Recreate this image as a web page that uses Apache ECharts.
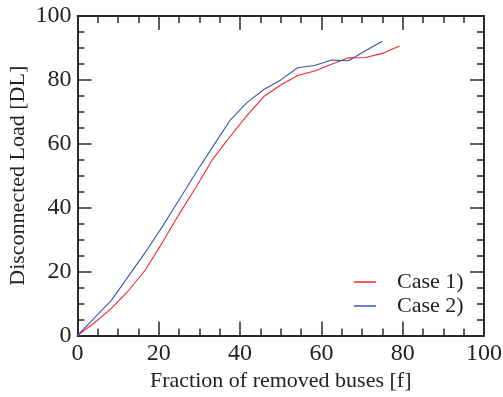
<!DOCTYPE html>
<html><head><meta charset="utf-8">
<script src="https://cdn.jsdelivr.net/npm/echarts@6/dist/echarts.min.js"></script>
<style>html,body{margin:0;padding:0;background:#fff}#c{width:503px;height:397px}</style>
</head><body><div id="c"></div>
<script>
const fractionX = [0, 4.17, 8.33, 12.5, 16.67, 20.83, 25, 29.17, 33.33, 37.5, 41.67, 45.83, 50, 54.17, 58.33, 62.5, 66.67, 70.83, 75, 79.17];
const case1 = [0, 4, 8.5, 14, 20.5, 29, 38, 46.5, 55.3, 62.2, 68.8, 74.8, 78.4, 81.4, 82.8, 84.9, 86.9, 87, 88.3, 90.6];
const case2 = [0, 5.5, 11, 18.5, 26, 34, 42.5, 51, 59.2, 67.3, 72.9, 77, 80, 83.8, 84.5, 86.2, 86, 89.1, 92.1];
const seriesNames = ['Case 1)', 'Case 2)'];
const xTicks = [0, 20, 40, 60, 80, 100];
const yTicks = [0, 20, 40, 60, 80, 100];

const font = 'Liberation Serif';
const axisCol = '#2a2a2a';
function pairs(xs, ys){ return ys.map((v,i)=>[xs[i], v]); }
function axisBase(show, pos){
  return {
    type:'value', min:0, max:100, interval:20, position:pos,
    axisLine:{show:true, onZero:false, lineStyle:{color:axisCol, width:2}},
    axisTick:{show:true, inside:true, length:14, lineStyle:{color:axisCol, width:1.5}},
    minorTick:{show:true, splitNumber:4, length:7, lineStyle:{color:axisCol, width:1.5}},
    splitLine:{show:false},
    axisLabel:{show:show, color:'#222', fontFamily:font, fontSize:24, margin:6,
      formatter:v=> (show ? String(v) : '')}
  };
}
const chart = echarts.init(document.getElementById('c'), null, {renderer:'canvas'});
const xb = axisBase(true,'bottom');
xb.name = 'Fraction of removed buses [f]';
xb.nameLocation = 'middle'; xb.nameGap = 35; xb.nameMoveOverlap = false;
xb.nameTextStyle = {color:'#222', fontFamily:font, fontSize:22};
xb.axisLabel.customValues = xTicks;
const yl = axisBase(true,'left');
yl.name = 'Disconnected Load [DL]';
yl.nameLocation = 'middle'; yl.nameGap = 48; yl.nameMoveOverlap = false;
yl.nameTextStyle = {color:'#222', fontFamily:font, fontSize:22};
yl.axisLabel.margin = 6;
yl.axisLabel.customValues = yTicks;
const xt = axisBase(false,'top');
const yr = axisBase(false,'right');
chart.setOption({
  animation:false,
  backgroundColor:'#fff',
  grid:{left:77.5, right:19, top:16, bottom:61.5, containLabel:false, outerBoundsMode:'none'},
  xAxis:[xb, xt],
  yAxis:[yl, yr],
  legend:{
    orient:'vertical', left:349, top:266, itemGap:2, itemWidth:22, itemHeight:1.5,
    icon:'rect',
    textStyle:{color:'#222', fontFamily:font, fontSize:22, padding:[0,0,0,16]},
    data:seriesNames
  },
  series:[
    {name:seriesNames[0], type:'line', data:pairs(fractionX, case1), showSymbol:false, symbol:'none',
      lineStyle:{color:'#f0282d', width:1.1}, itemStyle:{color:'#f0282d'}, xAxisIndex:0, yAxisIndex:0},
    {name:seriesNames[1], type:'line', data:pairs(fractionX, case2), showSymbol:false, symbol:'none',
      lineStyle:{color:'#3a55b0', width:1.1}, itemStyle:{color:'#3a55b0'}, xAxisIndex:0, yAxisIndex:0}
  ]
});
</script></body></html>
